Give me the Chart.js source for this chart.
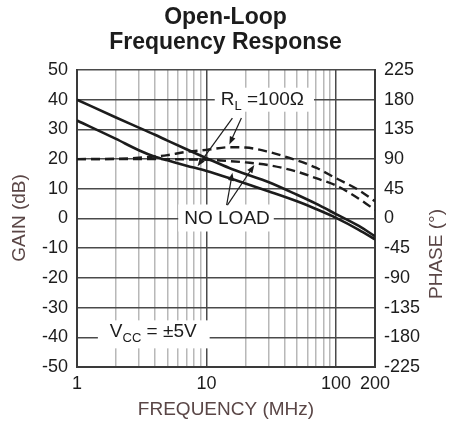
<!DOCTYPE html>
<html>
<head>
<meta charset="utf-8">
<script src="https://cdn.jsdelivr.net/npm/chart.js@4.4.1/dist/chart.umd.min.js"></script>
<style>
  html, body { margin: 0; padding: 0; background: #fff; }
  #wrap { width: 451px; height: 427px; }
</style>
</head>
<body>
<div id="wrap"><canvas id="bode"></canvas></div>
<script>
// frequency points (MHz)
const freqs = [1, 2, 3, 4, 5, 7, 10, 15, 20, 30, 50, 70, 100, 150, 200];
// gain in dB (left axis)
const gainNoLoad = [40, 34, 30.6, 28.2, 26.2, 23.3, 20.3, 17, 15, 12.3, 8, 5, 1.5, -2.5, -6];
const gainRL100 = [33, 26.8, 23, 20.8, 19.6, 17.8, 16, 13.6, 11.8, 9.2, 5.8, 3.2, 0.2, -3.8, -7];
// phase in degrees (right axis)
const phaseRL100 = [90, 90.5, 92, 94, 96, 101, 104, 108, 107.5, 101, 88, 77, 61, 43, 26];
const phaseNoLoad = [90, 90, 90, 90, 90, 89.5, 89, 87, 85, 81, 71, 61, 50, 30, 13];

// axis ticks
const xGridValues = [1, 2, 3, 4, 5, 6, 7, 8, 9, 10, 20, 30, 40, 50, 60, 70, 80, 90, 100, 200];
const xTickLabels = [1, 10, 100, 200];

const FONT = "'Liberation Sans', Arial, sans-serif";
const ink = '#1c1c1c';
const titleInk = '#5a4646';

Chart.defaults.font.family = FONT;
Chart.defaults.color = ink;

const toPts = (ys) => freqs.map((f, i) => ({ x: f, y: ys[i] }));

// text labels with white boxes + pointer arrows
const notes = [
  { f: 27, db: 40, parts: [['R'], ['L', true], [' =100\u03A9']], padL: 6, padR: 10, up: 12, down: 12 },
  { f: 14.4, db: 0, parts: [['NO LOAD']], padL: 6, padR: 4, up: 14, down: 13 },
  { f: 3.88, db: -38, parts: [['V'], ['CC', true], [' = \u00B15V']], padL: 12, padR: 13, up: 11, down: 17 }
];
const arrows = [
  [15.85, 33.8, 8.53, 17.6],
  [18.6, 33.8, 15.0, 24.9],
  [14.3, 4.5, 15.85, 15.4],
  [14.5, 4.5, 23.4, 18.0]
];

const notesPlugin = {
  id: 'notes',
  beforeDatasetsDraw(chart) {
    const { ctx, scales: { x, y } } = chart;
    ctx.save();
    notes.forEach(n => {
      const cx = x.getPixelForValue(n.f), cy = y.getPixelForValue(n.db);
      let w = 0;
      n.parts.forEach(p => {
        ctx.font = (p[1] ? '13px ' : '19px ') + FONT;
        w += ctx.measureText(p[0]).width;
      });
      ctx.fillStyle = '#fff';
      ctx.fillRect(cx - w / 2 - n.padL, cy - n.up, w + n.padL + n.padR, n.up + n.down);
      let tx = cx - w / 2;
      ctx.fillStyle = ink;
      ctx.textBaseline = 'middle';
      ctx.textAlign = 'left';
      n.parts.forEach(p => {
        ctx.font = (p[1] ? '13px ' : '19px ') + FONT;
        ctx.fillText(p[0], tx, p[1] ? cy + 7 : cy);
        tx += ctx.measureText(p[0]).width;
      });
    });
    ctx.restore();
  },
  afterDatasetsDraw(chart) {
    const { ctx, scales: { x, y } } = chart;
    ctx.save();
    ctx.strokeStyle = ink;
    ctx.fillStyle = ink;
    ctx.lineWidth = 1.2;
    arrows.forEach(a => {
      const x1 = x.getPixelForValue(a[0]), y1 = y.getPixelForValue(a[1]);
      const x2 = x.getPixelForValue(a[2]), y2 = y.getPixelForValue(a[3]);
      const ang = Math.atan2(y2 - y1, x2 - x1);
      ctx.beginPath();
      ctx.moveTo(x1, y1);
      ctx.lineTo(x2 - 6 * Math.cos(ang), y2 - 6 * Math.sin(ang));
      ctx.stroke();
      ctx.beginPath();
      ctx.moveTo(x2, y2);
      ctx.lineTo(x2 - 8 * Math.cos(ang) + 3 * Math.sin(ang), y2 - 8 * Math.sin(ang) - 3 * Math.cos(ang));
      ctx.lineTo(x2 - 8 * Math.cos(ang) - 3 * Math.sin(ang), y2 - 8 * Math.sin(ang) + 3 * Math.cos(ang));
      ctx.closePath();
      ctx.fill();
    });
    ctx.restore();
  },
  afterDraw(chart) {
    // vertical axis titles, both reading bottom-to-top
    const { ctx, chartArea } = chart;
    ctx.save();
    ctx.fillStyle = titleInk;
    ctx.font = '19px ' + FONT;
    ctx.textAlign = 'center';
    ctx.textBaseline = 'middle';
    ctx.translate(20, 218);
    ctx.rotate(-Math.PI / 2);
    ctx.fillText('GAIN (dB)', 0, 0);
    ctx.restore();
    ctx.save();
    ctx.fillStyle = titleInk;
    ctx.font = '19px ' + FONT;
    ctx.textAlign = 'center';
    ctx.textBaseline = 'middle';
    ctx.translate(chartArea.right + 62, 254);
    ctx.rotate(-Math.PI / 2);
    ctx.fillText('PHASE (\u00B0)', 0, 0);
    ctx.restore();
  }
};

new Chart(document.getElementById('bode'), {
  type: 'line',
  data: {
    datasets: [
      { label: 'Gain, no load', data: toPts(gainNoLoad), yAxisID: 'y', borderColor: ink, borderWidth: 2.6 },
      { label: 'Gain, RL=100', data: toPts(gainRL100), yAxisID: 'y', borderColor: ink, borderWidth: 2.6 },
      { label: 'Phase, RL=100', data: toPts(phaseRL100), yAxisID: 'y2', borderColor: ink, borderWidth: 2.4, borderDash: [9, 5] },
      { label: 'Phase, no load', data: toPts(phaseNoLoad), yAxisID: 'y2', borderColor: ink, borderWidth: 2.4, borderDash: [9, 5] }
    ]
  },
  options: {
    responsive: true,
    maintainAspectRatio: false,
    animation: false,
    layout: { padding: 0 },
    elements: {
      point: { radius: 0 },
      line: { cubicInterpolationMode: 'monotone', fill: false }
    },
    plugins: {
      legend: { display: false },
      tooltip: { enabled: false },
      title: {
        display: true,
        text: ['Open-Loop', 'Frequency Response'],
        color: ink,
        font: { size: 23, weight: 'bold', lineHeight: '25px' },
        padding: { top: 5, bottom: 15 }
      }
    },
    scales: {
      x: {
        type: 'logarithmic',
        min: 1,
        max: 200,
        afterBuildTicks: s => { s.ticks = xGridValues.map(v => ({ value: v })); },
        afterFit: s => { s.height = 60; },
        ticks: {
          autoSkip: false,
          maxRotation: 0,
          padding: 6,
          font: { size: 18 },
          color: ink,
          callback: v => xTickLabels.includes(v) ? String(v) : ''
        },
        grid: {
          drawTicks: false,
          lineWidth: 1.5,
          color: c => (c.tick && [1, 10, 100, 200].includes(c.tick.value)) ? '#4a4a4a' : '#b8b8b8'
        },
        border: { color: '#3a3a3a', width: 2 },
        title: {
          display: true,
          text: 'FREQUENCY (MHz)',
          color: titleInk,
          font: { size: 19 },
          padding: { top: 0, bottom: 6 }
        }
      },
      y: {
        position: 'left',
        min: -50,
        max: 50,
        afterFit: s => { s.width = 77; },
        ticks: { stepSize: 10, padding: 9, font: { size: 18 }, color: ink },
        grid: { drawTicks: false, lineWidth: 1.5, color: '#4a4a4a' },
        border: { color: '#3a3a3a', width: 2 }
      },
      y2: {
        position: 'right',
        min: -225,
        max: 225,
        afterFit: s => { s.width = 76; },
        ticks: { stepSize: 45, padding: 9, font: { size: 18 }, color: ink },
        grid: { drawTicks: false, drawOnChartArea: false },
        border: { color: '#3a3a3a', width: 2 }
      }
    }
  },
  plugins: [notesPlugin]
});
</script>
</body>
</html>
